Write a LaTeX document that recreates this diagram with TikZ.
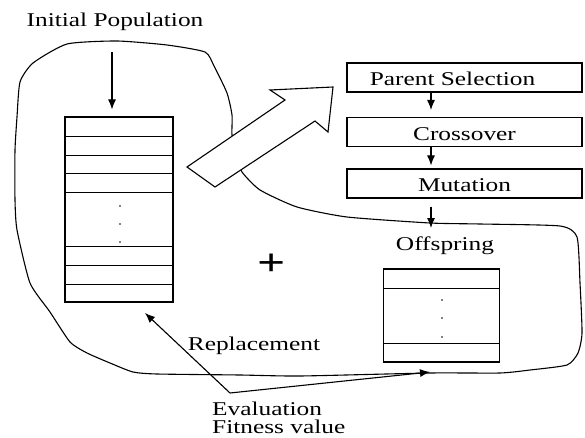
\documentclass[tikz,border=0pt]{standalone}
\usepackage{fontspec}
\setmainfont[FakeStretch=1.3]{Liberation Serif}
\usetikzlibrary{arrows.meta}
\tikzset{
  stage/.style={draw, line width=1.1pt, minimum width=235pt, minimum height=29pt,
    inner sep=0pt, text height=18pt, text depth=1pt},
  store/.style={draw, line width=1.1pt, inner sep=0pt},
  flow/.style={-{Latex[length=10pt,width=8pt]}, line width=1.1pt},
  lbl/.style={anchor=base, inner sep=0pt},
}
\begin{document}
\begin{tikzpicture}[x=1pt, y=-1pt, font=\fontsize{19.5}{21}\selectfont]
    \useasboundingbox (0,0) rectangle (585,438);
    %% outline of the loop
    \draw[line width=1.1pt] plot[smooth cycle, tension=0.35] coordinates {
        (17,117) (20,82) (33,63) (67,44) (117,41) (167,45) (205,52) (214,66)
        (227,93) (232,115) (232,135) (236,155) (242,172) (260,190) (297,207)
        (347,217) (430,223) (480,224) (560,226) (577,237) (580,283) (582,333)
        (578,353) (567,365) (530,370) (500,373) (430,373) (300,376) (240,375)
        (157,374) (133,372) (110,363) (87,353) (70,342) (50,312)
        (30,283) (17,230) (15,200) (15,150)};
    %% hollow arrow
    \draw[line width=1.1pt, fill=white, line join=miter]
        (187,167) -- (285,100) -- (270,90) -- (333,87) -- (328,132)
        -- (315,121) -- (215,187) -- cycle;

    %% initial population
    \node[lbl] (init) at (115,27) {Initial Population};
    \node[store, minimum width=108pt, minimum height=185pt] (pop) at (119,209.5) {};
    \foreach \y in {136,155,173,192,246,265,284}
        \draw[line width=0.9pt] (65,\y) -- (173,\y);
    \foreach \y in {206,224,242}
        \fill (120,\y) circle (0.9pt);
    \coordinate (ipin) at (112,52);
    \draw[flow, shorten >=7pt] (ipin) -- (pop.north -| ipin);

    %% operators
    \node[stage] (psel) at (464.5,77.5) {Parent Selection\hspace*{24pt}};
    \node[stage] (cross) at (464.5,132) {Crossover};
    \node[stage] (mut) at (464.5,183.5) {Mutation};
    \coordinate (col) at (431,0);
    \coordinate (offin) at (431,228);
    \draw[flow, shorten >=7pt] (psel.south -| col) -- (cross.north -| col);
    \draw[flow, shorten >=3pt] (cross.south -| col) -- (mut.north -| col);
    \draw[flow, shorten <=8pt] (mut.south -| col) -- (offin);

    %% offspring
    \node[lbl] (offlbl) at (445,250) {Offspring};
    \node[store, minimum width=116pt, minimum height=93pt] (offs) at (441.5,315.5) {};
    \foreach \y in {288,343}
        \draw[line width=0.9pt] (384,\y) -- (500,\y);
    \foreach \y in {300,318,337}
        \fill (442,\y) circle (0.9pt);

    \node (plus) at (272,265) {\fontsize{38}{38}\selectfont\bfseries +};

    %% evaluation and replacement
    \node[lbl] (repl) at (254,350) {Replacement};
    \node[lbl, anchor=base west] (eval) at (212,415) {Evaluation};
    \node[lbl, anchor=base west] (fit) at (212,433) {Fitness value};
    \coordinate (ev) at (230,393);
    \coordinate (back) at (145,313);
    \coordinate (fwd) at (430,372);
    \draw[flow] (ev) -- (back);
    \draw[flow] (ev) -- (fwd);
\end{tikzpicture}
\end{document}
